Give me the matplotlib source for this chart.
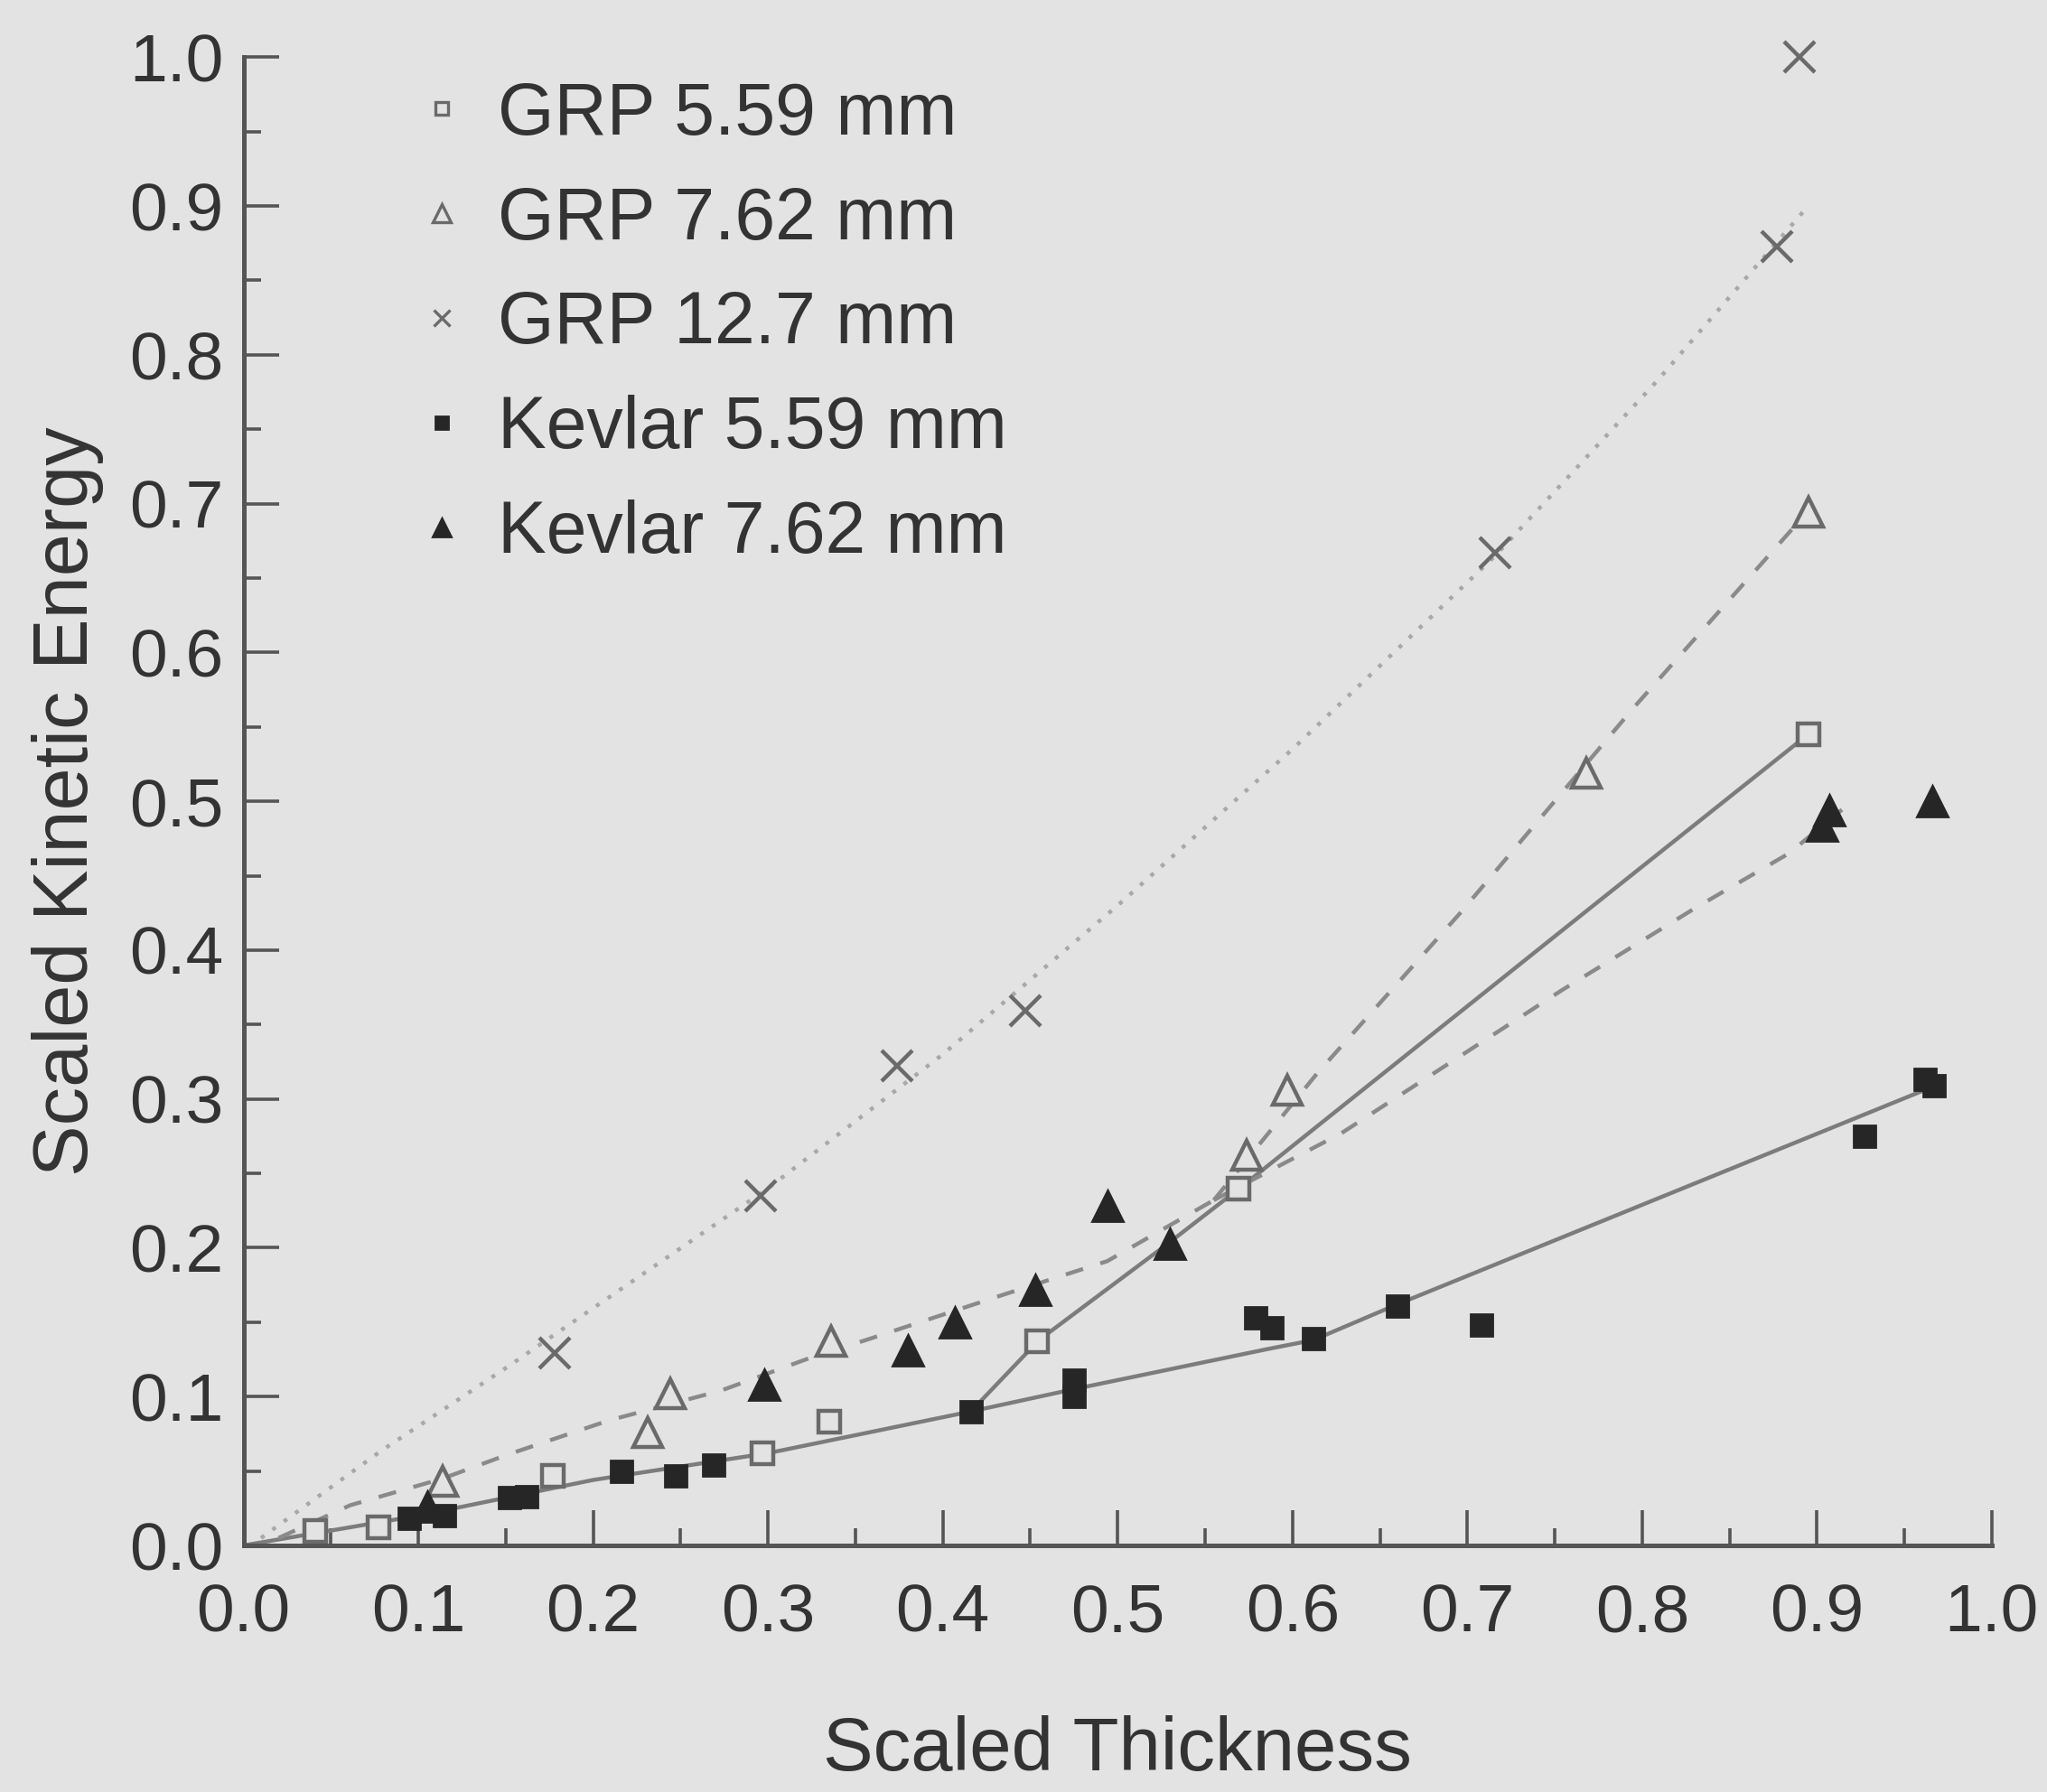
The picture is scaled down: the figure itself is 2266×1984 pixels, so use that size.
import matplotlib
matplotlib.use("Agg")
import matplotlib.pyplot as plt
from matplotlib.lines import Line2D
from matplotlib.ticker import MultipleLocator, FormatStrFormatter

# ---------------- data ----------------
grp559_x = [0.041, 0.077, 0.177, 0.297, 0.335, 0.454, 0.569, 0.895]
grp559_y = [0.010, 0.012, 0.047, 0.062, 0.083, 0.137, 0.240, 0.545]

grp762_x = [0.114, 0.231, 0.244, 0.336, 0.574, 0.597, 0.768, 0.895]
grp762_y = [0.043, 0.076, 0.102, 0.137, 0.262, 0.306, 0.519, 0.694]

grp127_x = [0.178, 0.296, 0.374, 0.447, 0.716, 0.877, 0.890]
grp127_y = [0.129, 0.235, 0.322, 0.359, 0.667, 0.873, 1.000]

kev559_x = [0.095, 0.115, 0.152, 0.162, 0.216, 0.247, 0.269, 0.416, 0.475, 0.475,
            0.579, 0.588, 0.612, 0.660, 0.708, 0.927, 0.962, 0.967]
kev559_y = [0.018, 0.020, 0.032, 0.033, 0.050, 0.047, 0.054, 0.090, 0.111, 0.100,
            0.153, 0.146, 0.139, 0.161, 0.148, 0.275, 0.313, 0.309]

kev762_x = [0.105, 0.298, 0.380, 0.407, 0.453, 0.494, 0.530, 0.903, 0.907, 0.966]
kev762_y = [0.026, 0.108, 0.131, 0.150, 0.172, 0.228, 0.203, 0.484, 0.494, 0.500]

# fitted curves as drawn in the figure
solid_low_x = [0.0, 0.1, 0.2, 0.3, 0.416, 0.475, 0.586, 0.612, 0.660, 0.97]
solid_low_y = [0.0, 0.020, 0.044, 0.062, 0.090, 0.105, 0.132, 0.138, 0.162, 0.310]
solid_up_x = [0.416, 0.455, 0.529, 0.573, 0.770, 0.895]
solid_up_y = [0.090, 0.138, 0.203, 0.243, 0.428, 0.545]

dash_common_x = [0.02, 0.061, 0.114, 0.151, 0.209, 0.273, 0.324, 0.356, 0.436, 0.494, 0.555]
dash_common_y = [0.005, 0.027, 0.045, 0.061, 0.084, 0.104, 0.126, 0.138, 0.169, 0.191, 0.232]
dash_up_x = [0.555, 0.614, 0.696, 0.796, 0.895]
dash_up_y = [0.232, 0.317, 0.425, 0.564, 0.695]
dash_low_x = [0.555, 0.628, 0.754, 0.830, 0.884, 0.915]
dash_low_y = [0.232, 0.277, 0.373, 0.428, 0.465, 0.495]

dot_x = [0.01, 0.078, 0.151, 0.300, 0.400, 0.500, 0.600, 0.716, 0.809, 0.895]
dot_y = [0.005, 0.063, 0.120, 0.240, 0.330, 0.430, 0.535, 0.665, 0.783, 0.900]

labels = ["GRP 5.59 mm", "GRP 7.62 mm", "GRP 12.7 mm", "Kevlar 5.59 mm", "Kevlar 7.62 mm"]
x_ticks = [0.0, 0.1, 0.2, 0.3, 0.4, 0.5, 0.6, 0.7, 0.8, 0.9, 1.0]

# ---------------- style ----------------
BG = "#e3e3e3"
TXT = "#333333"
LINE = "#7c7c7c"
GRP = "#6a6a6a"
KEV = "#262626"
FONT = ["Liberation Sans", "DejaVu Sans"]
plt.rcParams["font.family"] = FONT

fig = plt.figure(figsize=(11.33, 9.92), dpi=200, facecolor=BG)
ax = fig.add_axes([0.119, 0.1376, 0.854, 0.8305], facecolor=BG)

# curves
ax.plot(solid_low_x, solid_low_y, color=LINE, lw=1.6, solid_capstyle="round")
ax.plot(solid_up_x, solid_up_y, color=LINE, lw=1.6, solid_capstyle="round")
ax.plot(dash_common_x, dash_common_y, color="#8a8a8a", lw=1.6, dashes=(4.5, 4.5))
ax.plot(dash_up_x, dash_up_y, color="#8a8a8a", lw=1.6, dashes=(4.5, 4.5))
ax.plot(dash_low_x, dash_low_y, color="#8a8a8a", lw=1.6, dashes=(4.5, 4.5))
ax.plot(dot_x, dot_y, color="#a8a8a8", lw=1.6, dashes=(1.0, 2.5))

# markers
ax.plot(grp559_x, grp559_y, ls="none", marker="s", ms=8.5, mfc=BG, mec=GRP, mew=1.6, clip_on=False)
ax.plot(grp762_x, grp762_y, ls="none", marker="^", ms=11.5, mfc=BG, mec=GRP, mew=1.6, clip_on=False)
ax.plot(grp127_x, grp127_y, ls="none", marker="x", ms=12, mec=GRP, mew=1.6, clip_on=False)
ax.plot(kev559_x, kev559_y, ls="none", marker="s", ms=8.5, mfc=KEV, mec=KEV, clip_on=False)
ax.plot(kev762_x, kev762_y, ls="none", marker="^", ms=12, mfc=KEV, mec=KEV, clip_on=False)

# axes
ax.set_xlim(0, 1.0)
ax.set_ylim(0, 1.0)
for s in ["top", "right"]:
    ax.spines[s].set_visible(False)
for s in ["left", "bottom"]:
    ax.spines[s].set_color("#555555")
    ax.spines[s].set_linewidth(1.8)
ax.set_xticks(x_ticks)
ax.set_yticks(x_ticks)
ax.xaxis.set_minor_locator(MultipleLocator(0.05))
ax.yaxis.set_minor_locator(MultipleLocator(0.05))
ax.xaxis.set_major_formatter(FormatStrFormatter("%.1f"))
ax.yaxis.set_major_formatter(FormatStrFormatter("%.1f"))
ax.tick_params(which="major", direction="in", length=14, width=1.3, color="#555555",
               labelsize=27, labelcolor=TXT)
ax.tick_params(which="minor", direction="in", length=7, width=1.3, color="#555555")
ax.tick_params(axis="x", which="major", pad=15)
ax.tick_params(axis="y", which="major", pad=8)

ax.set_xlabel("Scaled Thickness", fontsize=30, color=TXT, labelpad=28)
ax.set_ylabel("Scaled Kinetic Energy", fontsize=30.5, color=TXT, labelpad=10)

# legend with small marker glyphs
handles = [
    Line2D([], [], ls="none", marker="s", ms=5, mfc=BG, mec=GRP, mew=1.2),
    Line2D([], [], ls="none", marker="^", ms=7, mfc=BG, mec=GRP, mew=1.2),
    Line2D([], [], ls="none", marker="x", ms=6.5, mec=GRP, mew=1.2),
    Line2D([], [], ls="none", marker="s", ms=5, mfc=KEV, mec=KEV),
    Line2D([], [], ls="none", marker="^", ms=7, mfc=KEV, mec=KEV),
]
leg = ax.legend(handles, labels, loc="upper left", bbox_to_anchor=(0.103, 0.984),
                frameon=False, fontsize=29, handlelength=0.5, handletextpad=0.52,
                labelspacing=0.495, borderpad=0, borderaxespad=0)
for t in leg.get_texts():
    t.set_color(TXT)

fig.savefig("out.png", dpi=200, facecolor=BG)
